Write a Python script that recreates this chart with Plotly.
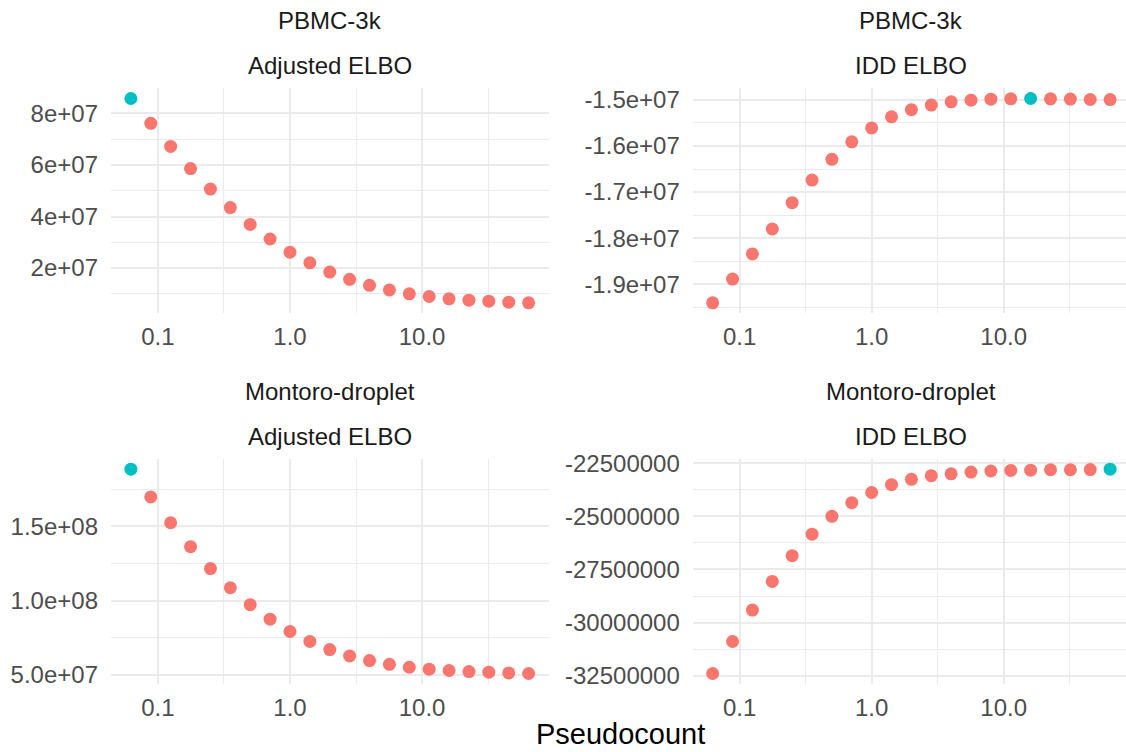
import numpy as np
import plotly.graph_objects as go

# ---------------- data ----------------
pseudocount = [0.0625, 0.0884, 0.125, 0.1768, 0.25, 0.3536, 0.5, 0.7071, 1.0, 1.4142,
               2.0, 2.8284, 4.0, 5.6569, 8.0, 11.3137, 16.0, 22.6274, 32.0, 45.2548, 64.0]

pbmc_adjusted = [8.577e7, 7.615e7, 6.718e7, 5.859e7, 5.064e7, 4.346e7, 3.692e7, 3.128e7,
                 2.615e7, 2.205e7, 1.846e7, 1.564e7, 1.333e7, 1.154e7, 1.000e7, 0.897e7,
                 0.808e7, 0.756e7, 0.718e7, 0.679e7, 0.654e7]
pbmc_idd = [-1.9400e7, -1.8885e7, -1.8340e7, -1.7800e7, -1.7230e7, -1.6740e7, -1.6290e7,
            -1.5910e7, -1.5610e7, -1.5370e7, -1.5215e7, -1.5115e7, -1.5043e7, -1.5007e7,
            -1.4986e7, -1.4978e7, -1.4972e7, -1.4978e7, -1.4985e7, -1.4993e7, -1.4996e7]
montoro_adjusted = [1.886e8, 1.699e8, 1.525e8, 1.364e8, 1.2165e8, 1.087e8, 0.973e8, 0.875e8,
                    0.792e8, 0.725e8, 0.670e8, 0.627e8, 0.596e8, 0.571e8, 0.551e8, 0.538e8,
                    0.529e8, 0.522e8, 0.518e8, 0.513e8, 0.509e8]
montoro_idd = [-32.39e6, -30.886e6, -29.41e6, -28.06e6, -26.85e6, -25.84e6, -25.0e6, -24.36e6,
               -23.88e6, -23.51e6, -23.26e6, -23.09e6, -23.0e6, -22.92e6, -22.87e6, -22.84e6,
               -22.83e6, -22.81e6, -22.81e6, -22.80e6, -22.785e6]

datasets = ["PBMC-3k", "PBMC-3k", "Montoro-droplet", "Montoro-droplet"]
methods = ["Adjusted ELBO", "IDD ELBO", "Adjusted ELBO", "IDD ELBO"]
series = [pbmc_adjusted, pbmc_idd, montoro_adjusted, montoro_idd]

x_tickvals = [0.1, 1.0, 10.0]
x_ticktext = ["0.1", "1.0", "10.0"]
x_minor = [0.0316, 0.316, 3.16, 31.6]

y_tickvals = [
    [2e7, 4e7, 6e7, 8e7],
    [-1.9e7, -1.8e7, -1.7e7, -1.6e7, -1.5e7],
    [5e7, 1e8, 1.5e8],
    [-32500000, -30000000, -27500000, -25000000, -22500000],
]
y_ticktext = [
    ["2e+07", "4e+07", "6e+07", "8e+07"],
    ["-1.9e+07", "-1.8e+07", "-1.7e+07", "-1.6e+07", "-1.5e+07"],
    ["5.0e+07", "1.0e+08", "1.5e+08"],
    ["-32500000", "-30000000", "-27500000", "-25000000", "-22500000"],
]
y_minor = [
    [1e7, 3e7, 5e7, 7e7],
    [-1.95e7, -1.85e7, -1.75e7, -1.65e7, -1.55e7],
    [7.5e7, 1.25e8, 1.75e8],
    [-31250000, -28750000, -26250000, -23750000],
]

# ---------------- layout geometry (pixels) ----------------
W, H = 1126, 752
col_px = [(111.0, 548.5), (692.8, 1130.0)]
row_px = [(88.3, 313.0), (459.0, 683.7)]

RED = "#F8766D"
TEAL = "#00BFC4"
GRID = "#EBEBEB"
FONT = "Liberation Sans"

fig = go.Figure()
layout = dict(width=W, height=H, margin=dict(l=0, r=0, t=0, b=0, pad=0, autoexpand=False),
              plot_bgcolor="white", paper_bgcolor="white", showlegend=False,
              font=dict(family=FONT, size=24, color="#4D4D4D"))
annotations = []

lx = np.log10(pseudocount)
xlo = lx.min() - 0.05 * (lx.max() - lx.min())
xhi = lx.max() + 0.05 * (lx.max() - lx.min())

for i, vals in enumerate(series):
    r, c = divmod(i, 2)
    n = i + 1
    xa = "x" if n == 1 else f"x{n}"
    ya = "y" if n == 1 else f"y{n}"
    best = int(np.argmax(vals))
    colors = [TEAL if k == best else RED for k in range(len(vals))]
    fig.add_trace(go.Scatter(x=pseudocount, y=vals, mode="markers", xaxis=xa, yaxis=ya,
                             cliponaxis=True,
                             marker=dict(size=13, color=colors, line=dict(width=0))))

    x0, x1 = col_px[c]
    y0, y1 = row_px[r]
    x1c = min(x1, W)
    xr = [xlo, xlo + (xhi - xlo) * (x1c - x0) / (x1 - x0)]
    vmin, vmax = min(vals), max(vals)
    pad = 0.05 * (vmax - vmin)

    layout[f"xaxis{'' if n == 1 else n}"] = dict(
        domain=[x0 / W, x1c / W], anchor=ya, type="log", range=xr, automargin=False,
        tickvals=x_tickvals, ticktext=x_ticktext, showgrid=True, gridcolor=GRID, gridwidth=2,
        minor=dict(tickvals=x_minor, showgrid=True, gridcolor=GRID, gridwidth=1, ticks=""),
        zeroline=False, showline=False, ticks="", ticklabelstandoff=7,
        tickfont=dict(size=24, color="#4D4D4D", family=FONT))
    layout[f"yaxis{'' if n == 1 else n}"] = dict(
        domain=[(H - y1) / H, (H - y0) / H], anchor=xa, range=[vmin - pad, vmax + pad],
        automargin=False,
        tickvals=y_tickvals[i], ticktext=y_ticktext[i], showgrid=True, gridcolor=GRID, gridwidth=2,
        minor=dict(tickvals=y_minor[i], showgrid=True, gridcolor=GRID, gridwidth=1, ticks=""),
        zeroline=False, showline=False, ticks="", ticklabelstandoff=12,
        tickfont=dict(size=24, color="#4D4D4D", family=FONT))

    cx = (x0 + x1) / 2 / W
    for txt, ypx in ((datasets[i], y0 - 67.8), (methods[i], y0 - 22.3)):
        annotations.append(dict(text=txt, x=cx, y=(H - ypx) / H, xref="paper", yref="paper",
                                xanchor="center", yanchor="middle", showarrow=False,
                                font=dict(size=24, color="#1A1A1A", family=FONT)))

annotations.append(dict(text="Pseudocount", x=(col_px[0][0] + col_px[1][1]) / 2 / W,
                        y=0.0, xref="paper", yref="paper", xanchor="center",
                        yanchor="bottom", showarrow=False,
                        font=dict(size=29, color="#000000", family=FONT)))
layout["annotations"] = annotations
fig.update_layout(**layout)
fig.write_html("out.html")
